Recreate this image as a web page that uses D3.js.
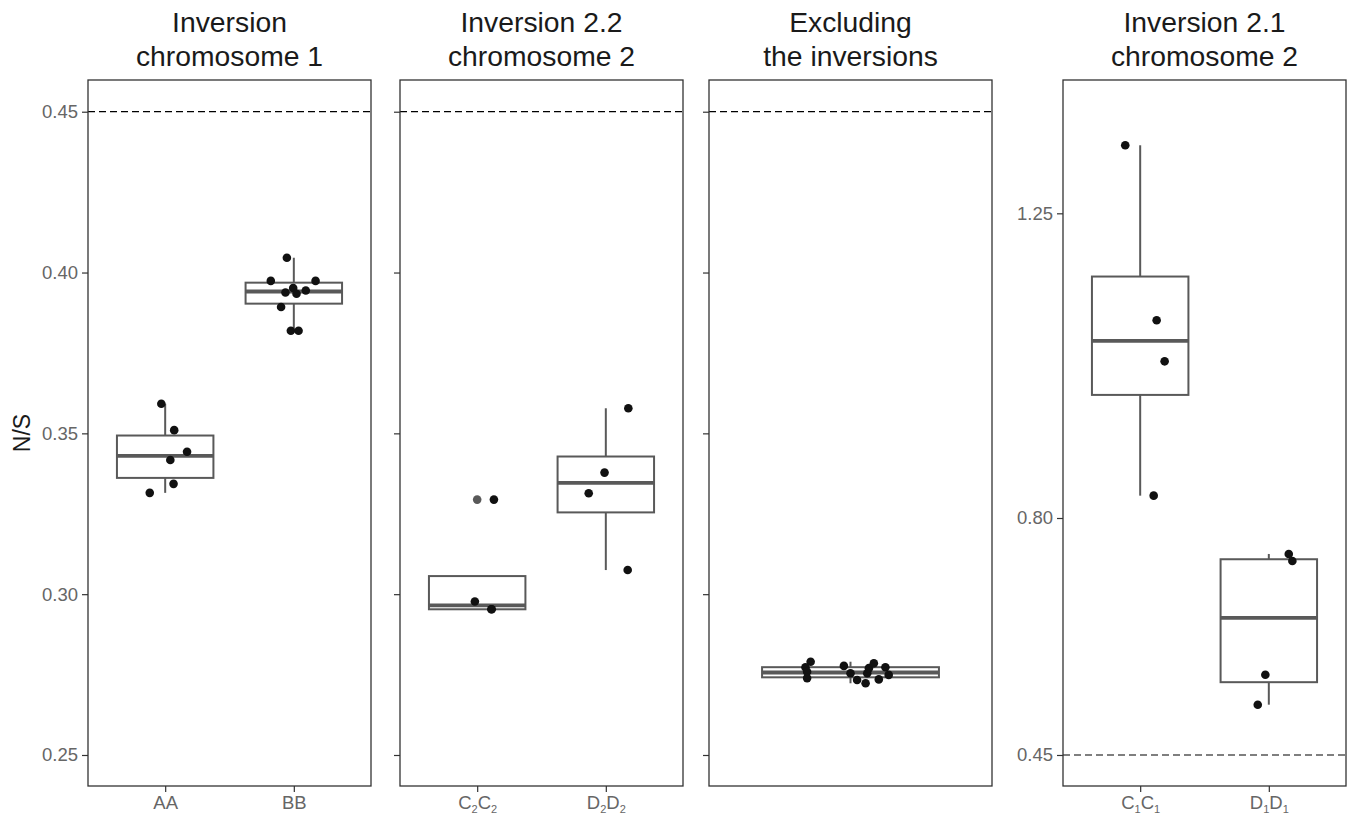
<!DOCTYPE html>
<html>
<head>
<meta charset="utf-8">
<script src="https://cdn.jsdelivr.net/npm/d3@7"></script>
<style>
  body { margin: 0; background: #fff; }
  svg { font-family: "Liberation Sans", Arial, Helvetica, sans-serif; }
  .tick text { fill: #666; }
</style>
</head>
<body>
<div id="chart"></div>
<script>
// panel titles (two lines each)
const panelTitles = [
  ["Inversion", "chromosome 1"],
  ["Inversion 2.2", "chromosome 2"],
  ["Excluding", "the inversions"],
  ["Inversion 2.1", "chromosome 2"],
];

// N/S values per genotype
const nsAA = [0.3592, 0.3510, 0.3443, 0.3417, 0.3343, 0.3315];
const nsBB = [0.4046, 0.3974, 0.3974, 0.3952, 0.3938, 0.3934, 0.3944, 0.3893, 0.3819, 0.3819];
const nsC2C2 = [0.3294, 0.2977, 0.2953, 0.2953];
const nsD2D2 = [0.3578, 0.3378, 0.3314, 0.3075];
const nsExcl = [0.2790, 0.2773, 0.2759, 0.2739, 0.2777, 0.2754, 0.2733, 0.2723,
                0.2754, 0.2770, 0.2785, 0.2735, 0.2773, 0.2749];
const nsC1C1 = [1.3505, 1.0920, 1.0314, 0.8330];
const nsD1D1 = [0.7469, 0.7365, 0.5686, 0.5243];

// horizontal jitter of each point (in category units)
const jitAA = [-0.03, 0.07, 0.17, 0.04, 0.065, -0.12];
const jitBB = [-0.054, -0.179, 0.169, -0.005, -0.065, 0.021, 0.093, -0.099, -0.023, 0.037];
const jitC2C2 = [0.13, -0.018, 0.113, 0.11];
const jitD2D2 = [0.175, -0.01, -0.133, 0.17];
const jitExcl = [-0.169, -0.191, -0.184, -0.184, -0.028, 0, 0.028, 0.064,
                 0.071, 0.078, 0.099, 0.12, 0.148, 0.162];
const jitC1C1 = [-0.116, 0.128, 0.19, 0.105];
const jitD1D1 = [0.155, 0.183, -0.027, -0.086];

// x labels as [letter, subscript] pairs
const labAA = [["A", ""], ["A", ""]];
const labBB = [["B", ""], ["B", ""]];
const labC2C2 = [["C", "2"], ["C", "2"]];
const labD2D2 = [["D", "2"], ["D", "2"]];
const labC1C1 = [["C", "1"], ["C", "1"]];
const labD1D1 = [["D", "1"], ["D", "1"]];

// y ticks
const ticksLeft = [0.25, 0.30, 0.35, 0.40, 0.45];
const ticksRight = [0.45, 0.80, 1.25];
const refLine = 0.45;

const W = 1350, H = 819;
const plotTop = 80, plotBottom = 786, pw = 283;

const panels = [
  { left: 88, domain: [0.24036, 0.45986], ticks: ticksLeft, labels: true, xticks: true,
    groups: [{ id: "AA", lab: labAA, v: nsAA, j: jitAA }, { id: "BB", lab: labBB, v: nsBB, j: jitBB }] },
  { left: 400, domain: [0.24036, 0.45986], ticks: ticksLeft, labels: false, xticks: true,
    groups: [{ id: "C2C2", lab: labC2C2, v: nsC2C2, j: jitC2C2 }, { id: "D2D2", lab: labD2D2, v: nsD2D2, j: jitD2D2 }] },
  { left: 709, domain: [0.24036, 0.45986], ticks: ticksLeft, labels: false, xticks: false,
    groups: [{ id: "excl", lab: [], v: nsExcl, j: jitExcl }] },
  { left: 1063, domain: [0.4042, 1.4469], ticks: ticksRight, labels: true, xticks: true,
    groups: [{ id: "C1C1", lab: labC1C1, v: nsC1C1, j: jitC1C1 }, { id: "D1D1", lab: labD1D1, v: nsD1D1, j: jitD1D1 }] },
];

const svg = d3.select("#chart").append("svg")
  .attr("width", W).attr("height", H);

svg.append("text")
  .attr("transform", `translate(30,${(plotTop + plotBottom) / 2}) rotate(-90)`)
  .attr("text-anchor", "middle")
  .attr("font-size", 23)
  .attr("fill", "#1a1a1a")
  .text("N/S");

function boxStats(values) {
  const s = values.slice().sort(d3.ascending);
  const q1 = d3.quantile(s, 0.25), med = d3.quantile(s, 0.5), q3 = d3.quantile(s, 0.75);
  const iqr = q3 - q1;
  const inside = s.filter((d) => d >= q1 - 1.5 * iqr && d <= q3 + 1.5 * iqr);
  return {
    q1, med, q3,
    lo: d3.min(inside), hi: d3.max(inside),
    out: s.filter((d) => d < q1 - 1.5 * iqr || d > q3 + 1.5 * iqr),
  };
}

panels.forEach((p, pi) => {
  const g = svg.append("g").attr("transform", `translate(${p.left},0)`);
  const y = d3.scaleLinear().domain(p.domain).range([plotBottom, plotTop]);
  const x = d3.scalePoint().domain(p.groups.map((d) => d.id)).range([0, pw]).padding(0.6);
  const step = x.step();

  // titles
  g.append("text")
    .attr("x", pw / 2).attr("text-anchor", "middle")
    .attr("font-size", 28.3).attr("fill", "#1a1a1a")
    .selectAll("tspan").data(panelTitles[pi]).join("tspan")
    .attr("x", pw / 2).attr("y", (d, i) => 32 + i * 33.5)
    .text((d) => d);

  // y axis
  const yAxis = d3.axisLeft(y).tickValues(p.ticks).tickSize(6).tickPadding(4)
    .tickFormat(d3.format(".2f"));
  const yG = g.append("g").call(yAxis);
  yG.select(".domain").remove();
  yG.selectAll(".tick line").attr("stroke", "#333").attr("stroke-width", 1.2);
  if (p.labels) yG.selectAll(".tick text").attr("font-size", 18.5);
  else yG.selectAll(".tick text").remove();

  // x axis
  if (p.xticks) {
    const xAxis = d3.axisBottom(x).tickSize(6).tickPadding(4).tickFormat(() => "");
    const xG = g.append("g").attr("transform", `translate(0,${plotBottom})`).call(xAxis);
    xG.select(".domain").remove();
    xG.selectAll(".tick line").attr("stroke", "#333").attr("stroke-width", 1.2);
    xG.selectAll(".tick text").each(function (id) {
      const grp = p.groups.find((d) => d.id === id);
      const t = d3.select(this).attr("font-size", 18.5).attr("dy", "0.71em");
      let shifted = false;
      grp.lab.forEach(([ch, sub]) => {
        t.append("tspan").attr("dy", shifted ? -4 : null).text(ch);
        shifted = false;
        if (sub) {
          t.append("tspan").attr("font-size", 11).attr("dy", 4).text(sub);
          shifted = true;
        }
      });
    });
  }

  // reference line
  g.append("line")
    .attr("x1", 0).attr("x2", pw)
    .attr("y1", y(refLine)).attr("y2", y(refLine))
    .attr("stroke", "#000").attr("stroke-width", 1.2)
    .attr("stroke-dasharray", "7,4");

  // boxes
  const bw = 0.75 * step;
  p.groups.forEach((grp) => {
    const st = boxStats(grp.v);
    const cx = x(grp.id);
    const bg = g.append("g");
    bg.append("line").attr("x1", cx).attr("x2", cx)
      .attr("y1", y(st.q3)).attr("y2", y(st.hi))
      .attr("stroke", "#595959").attr("stroke-width", 2);
    bg.append("line").attr("x1", cx).attr("x2", cx)
      .attr("y1", y(st.q1)).attr("y2", y(st.lo))
      .attr("stroke", "#595959").attr("stroke-width", 2);
    bg.append("rect")
      .attr("x", cx - bw / 2).attr("width", bw)
      .attr("y", y(st.q3)).attr("height", y(st.q1) - y(st.q3))
      .attr("fill", "#fff").attr("stroke", "#595959").attr("stroke-width", 2);
    bg.append("line")
      .attr("x1", cx - bw / 2).attr("x2", cx + bw / 2)
      .attr("y1", y(st.med)).attr("y2", y(st.med))
      .attr("stroke", "#595959").attr("stroke-width", 3.8);
    bg.selectAll(".outlier").data(st.out).join("circle")
      .attr("class", "outlier")
      .attr("cx", cx).attr("cy", (d) => y(d)).attr("r", 4.3)
      .attr("fill", "#595959");
  });

  // jittered points
  p.groups.forEach((grp) => {
    const cx = x(grp.id);
    g.selectAll(null).data(grp.v).join("circle")
      .attr("cx", (d, i) => cx + grp.j[i] * step)
      .attr("cy", (d) => y(d))
      .attr("r", 4.3)
      .attr("fill", "#111");
  });

  // panel border
  g.append("rect")
    .attr("x", 0).attr("y", plotTop).attr("width", pw).attr("height", plotBottom - plotTop)
    .attr("fill", "none").attr("stroke", "#333").attr("stroke-width", 1.3);
});
</script>
</body>
</html>
